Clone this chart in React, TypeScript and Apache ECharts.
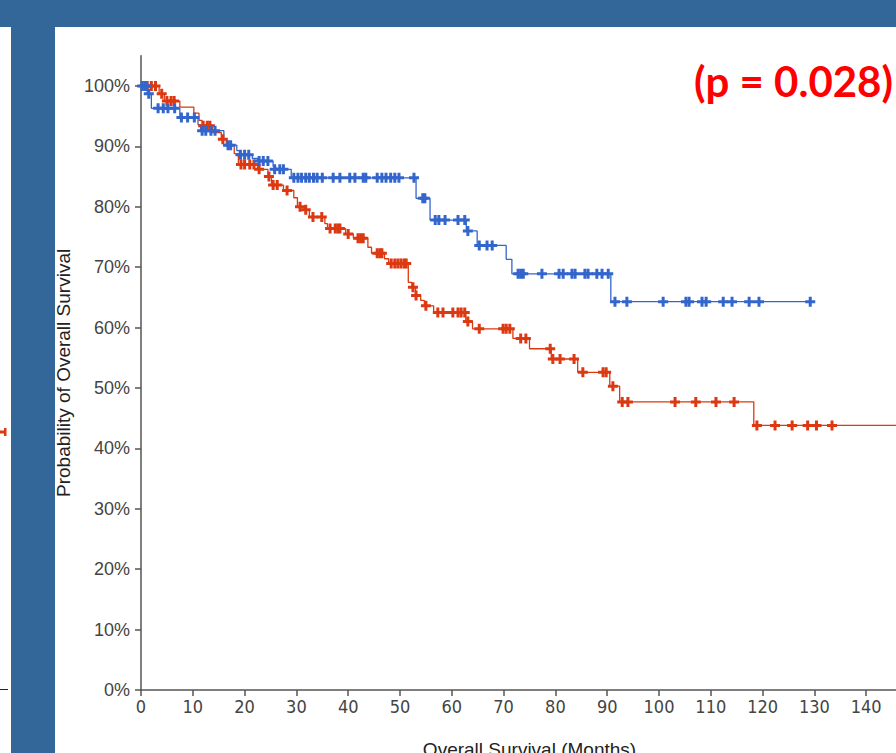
import React, { useEffect, useRef } from "react";
import * as echarts from "echarts";

// Kaplan-Meier steps: [months, survival %] (value after the drop)
const blueSteps: [number, number][] = [
  [0, 100], [1.2, 98.7], [2.0, 96.3], [7.5, 94.8], [11.0, 93.6], [11.5, 92.6],
  [16.0, 91.2], [16.5, 90.2], [18.5, 89.3], [19.0, 88.6], [21.5, 88.0], [22.5, 87.6],
  [25.5, 86.7], [26.0, 86.2], [29.0, 84.8], [53.1, 81.4], [55.8, 77.8], [62.8, 76.0],
  [64.9, 73.6], [70.5, 71.3], [71.6, 68.9], [90.7, 64.3], [129.2, 64.3],
];
const blueCensored: [number, number][] = [
  [0.2, 100], [0.7, 100], [1.0, 100], [1.5, 98.7],
  [3.3, 96.3], [4.3, 96.3], [5.2, 96.3], [6.5, 96.3],
  [7.8, 94.8], [9.0, 94.8], [10.3, 94.8],
  [11.8, 92.6], [12.5, 92.6], [13.5, 92.6], [14.3, 92.6],
  [16.8, 90.2], [17.3, 90.2],
  [19.2, 88.6], [20.0, 88.6], [20.8, 88.6],
  [22.8, 87.6], [23.6, 87.6], [24.5, 87.6],
  [25.8, 86.2], [26.8, 86.2], [27.5, 86.2],
  [29.5, 84.8], [30.3, 84.8], [31.0, 84.8], [31.8, 84.8], [32.5, 84.8], [33.3, 84.8],
  [34.0, 84.8], [35.0, 84.8], [37.1, 84.8], [38.4, 84.8], [40.3, 84.8], [41.3, 84.8],
  [42.9, 84.8], [43.4, 84.8], [45.6, 84.8], [46.5, 84.8], [47.3, 84.8], [48.2, 84.8],
  [49.0, 84.8], [49.8, 84.8], [52.7, 84.8],
  [54.4, 81.4], [54.8, 81.4],
  [56.8, 77.8], [57.5, 77.8], [58.7, 77.8], [61.2, 77.8], [62.5, 77.8],
  [63.1, 76.0],
  [65.3, 73.6], [66.8, 73.6], [67.8, 73.6],
  [72.8, 68.9], [73.3, 68.9], [73.8, 68.9], [77.4, 68.9], [80.7, 68.9], [81.5, 68.9],
  [83.2, 68.9], [83.8, 68.9], [85.7, 68.9], [86.3, 68.9], [88.0, 68.9], [89.0, 68.9],
  [90.2, 68.9],
  [91.5, 64.3], [93.8, 64.3], [100.8, 64.3], [105.2, 64.3], [105.8, 64.3], [108.3, 64.3],
  [109.1, 64.3], [112.4, 64.3], [114.1, 64.3], [117.4, 64.3], [119.3, 64.3], [129.2, 64.3],
];

const redSteps: [number, number][] = [
  [0, 100], [3.5, 98.7], [4.5, 97.5], [7.5, 96.5], [10.2, 95.5], [11.2, 94.3],
  [11.8, 93.4], [13.8, 92.3], [15.5, 91.2], [16.5, 90.2], [18.0, 88.8], [18.8, 87.0],
  [22.5, 86.2], [24.5, 85.0], [25.2, 83.6], [27.5, 82.7], [29.5, 81.5], [30.2, 80.0],
  [31.5, 79.5], [32.5, 78.3], [35.5, 77.2], [36.0, 76.4], [39.5, 75.5], [41.0, 74.8],
  [43.8, 73.3], [44.5, 72.3], [47.0, 71.4], [47.8, 70.6], [51.6, 67.5], [52.3, 66.7],
  [53.0, 65.3], [54.0, 64.5], [54.7, 63.6], [56.5, 62.5], [62.7, 61.0], [64.0, 59.8],
  [71.8, 58.2], [75.0, 56.5], [79.2, 54.8], [84.3, 52.6], [90.5, 50.3], [92.4, 47.7],
  [118.3, 43.8], [150, 43.8],
];
const redCensored: [number, number][] = [
  [1.2, 100], [2.0, 100], [2.8, 100], [4.0, 98.7],
  [5.0, 97.5], [5.8, 97.5], [6.4, 97.5],
  [12.0, 93.4], [12.8, 93.4], [13.3, 93.4],
  [15.8, 91.2],
  [19.3, 87.0], [20.0, 87.0], [21.0, 87.0], [21.8, 87.0],
  [22.8, 86.2], [24.7, 85.0], [25.5, 83.6], [26.3, 83.6], [28.2, 82.7],
  [30.7, 80.0], [31.8, 79.5], [33.2, 78.3], [34.9, 78.3],
  [36.5, 76.4], [37.5, 76.4], [38.0, 76.4], [38.4, 76.4], [40.0, 75.5],
  [41.9, 74.8], [42.4, 74.8], [42.9, 74.8],
  [45.6, 72.3], [46.1, 72.3], [46.5, 72.3],
  [48.3, 70.6], [49.0, 70.6], [49.6, 70.6], [50.2, 70.6], [50.8, 70.6], [51.2, 70.6],
  [52.5, 66.7], [53.1, 65.3], [55.0, 63.6],
  [57.3, 62.5], [58.3, 62.5], [60.2, 62.5], [61.2, 62.5], [61.8, 62.5], [62.5, 62.5],
  [63.1, 61.0],
  [65.3, 59.8], [69.9, 59.8], [70.5, 59.8], [71.2, 59.8],
  [73.3, 58.2], [74.3, 58.2], [79.0, 56.5],
  [79.5, 54.8], [80.9, 54.8], [83.6, 54.8],
  [85.3, 52.6], [89.2, 52.6], [89.8, 52.6], [91.1, 50.3],
  [92.9, 47.7], [94.0, 47.7], [103.1, 47.7], [107.1, 47.7], [111.0, 47.7], [114.5, 47.7],
  [118.9, 43.8], [122.4, 43.8], [125.7, 43.8], [128.7, 43.8], [130.4, 43.8], [133.4, 43.8],
];

const yTickValues = [0, 0.1, 0.2, 0.3, 0.4, 0.5, 0.6, 0.7, 0.8, 0.9, 1.0];
const xTickValues = [0, 10, 20, 30, 40, 50, 60, 70, 80, 90, 100, 110, 120, 130, 140];
const pValueText = "(p = 0.028)";
const xAxisTitle = "Overall Survival (Months)";
const yAxisTitle = "Probability of Overall Survival";

const BLUE = "#3366cc";
const RED = "#dc3912";
const SLIDE_BLUE = "#346799";
const PLUS = "path://M3.5,0H6.5V3.5H10V6.5H6.5V10H3.5V6.5H0V3.5H3.5Z";

const toFrac = (arr: [number, number][]) => arr.map(([t, s]) => [t, s / 100]);

export default function App() {
  const ref = useRef<HTMLDivElement>(null);
  useEffect(() => {
    if (!ref.current) return;
    const chart = echarts.init(ref.current, null, { renderer: "svg" });
    chart.setOption({
      animation: false,
      backgroundColor: "#ffffff",
      textStyle: { fontFamily: "'Liberation Sans', Arial, sans-serif" },
      grid: { left: 141, right: 42, top: 55.8, bottom: 90 },
      graphic: [
        { type: "rect", z: -10, shape: { x: 0, y: 0, width: 960, height: 27 }, style: { fill: SLIDE_BLUE } },
        { type: "rect", z: -10, shape: { x: 11, y: 0, width: 44, height: 800 }, style: { fill: SLIDE_BLUE } },
        { type: "rect", shape: { x: 0, y: 430.5, width: 5, height: 3 }, style: { fill: RED } },
        { type: "rect", shape: { x: 4, y: 428, width: 2.5, height: 8 }, style: { fill: RED } },
        { type: "line", shape: { x1: 0, y1: 689.5, x2: 8, y2: 689.5 }, style: { stroke: "#222", lineWidth: 1 } },
        {
          type: "text",
          right: 67,
          top: 60,
          style: {
            text: pValueText,
            fill: "#ff0000",
            font: "bold 42px Lato, 'Open Sans', sans-serif",
          },
        },
      ],
      xAxis: {
        type: "value",
        min: 0,
        max: 150,
        interval: 10,
        splitLine: { show: false },
        axisLine: { onZero: false, lineStyle: { color: "#555", width: 1.5 } },
        axisTick: { length: 6, customValues: xTickValues, lineStyle: { color: "#555", width: 1.5 } },
        axisLabel: {
          color: "#444",
          fontSize: 18,
          margin: 7,
          customValues: xTickValues,
          fontFamily: "'Liberation Sans Narrow', 'DejaVu Sans Condensed', 'Liberation Sans', Arial, sans-serif",
        },
        name: xAxisTitle,
        nameLocation: "middle",
        nameGap: 50,
        nameTextStyle: { color: "#222", fontSize: 19 },
      },
      yAxis: {
        type: "value",
        min: 0,
        max: 1.05,
        interval: 0.1,
        splitLine: { show: false },
        axisLine: { lineStyle: { color: "#555", width: 1.5 } },
        axisTick: { length: 6, customValues: yTickValues, lineStyle: { color: "#555", width: 1.5 } },
        axisLabel: {
          color: "#444",
          fontSize: 18,
          margin: 11,
          customValues: yTickValues,
          formatter: (v: number) => Math.round(v * 100) + "%",
        },
        name: yAxisTitle,
        nameLocation: "middle",
        nameGap: 66,
        nameTextStyle: { color: "#222", fontSize: 19 },
      },
      series: [
        {
          type: "line",
          step: "end",
          data: toFrac(blueSteps),
          showSymbol: false,
          lineStyle: { color: BLUE, width: 1.3 },
          z: 2,
        },
        {
          type: "line",
          step: "end",
          data: toFrac(redSteps),
          showSymbol: false,
          lineStyle: { color: RED, width: 1.3 },
          z: 2,
        },
        {
          type: "scatter",
          data: toFrac(redCensored),
          symbol: PLUS,
          symbolSize: 10,
          itemStyle: { color: RED, opacity: 1 },
          z: 3,
        },
        {
          type: "scatter",
          data: toFrac(blueCensored),
          symbol: PLUS,
          symbolSize: 10,
          itemStyle: { color: BLUE, opacity: 1 },
          z: 4,
        },
      ],
    });
    return () => chart.dispose();
  }, []);
  return (
    <div style={{ position: "fixed", left: 0, top: 0, width: 896, height: 753, overflow: "hidden", background: "#fff" }}>
      <div ref={ref} style={{ position: "absolute", left: 0, top: 0, width: 960, height: 780 }} />
    </div>
  );
}
